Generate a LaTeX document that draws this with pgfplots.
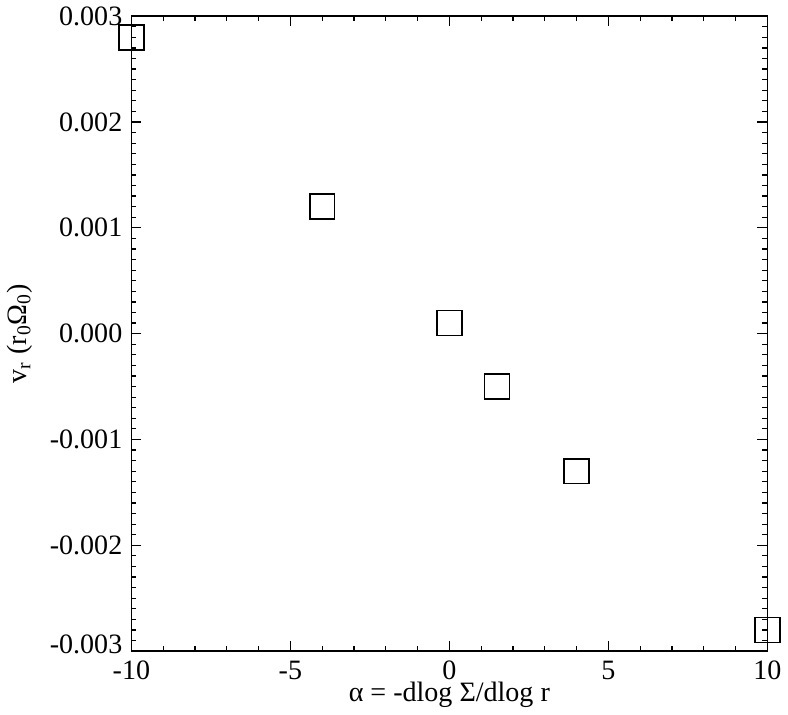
\documentclass[border=0pt]{standalone}
\usepackage{pgfplots}
\pgfplotsset{compat=1.18}
\usepackage{fontspec}
\setmainfont{Liberation Serif}

\begin{document}
\begin{tikzpicture}
\begin{axis}[
  scale only axis,
  width=317.5pt, height=317pt,
  xmin=-10, xmax=10, ymin=-0.003, ymax=0.003,
  xtick={-10,-5,0,5,10},
  xticklabels={-10,-5,0,5,10},
  ytick={-0.003,-0.002,-0.001,0,0.001,0.002,0.003},
  yticklabels={\raisebox{7pt}{-0.003},-0.002,-0.001,0.000,0.001,0.002,\raisebox{-4pt}{0.003}},
  minor x tick num=4,
  minor y tick num=9,
  tick align=inside,
  major tick length=5pt,
  minor tick length=2.5pt,
  every tick/.style={black, line width=0.6pt},
  axis line style={line width=0.75pt},
  scaled y ticks=false,
  tick label style={font=\fontsize{14}{16}\selectfont},
  yticklabel style={xshift=-1pt},
  xticklabel style={yshift=-1.5pt},
  xlabel={α = -dlog Σ/dlog r},
  ylabel={v\textsubscript{r} (r\textsubscript{0}Ω\textsubscript{0})},
  label style={font=\fontsize{14}{16}\selectfont},
  xlabel style={yshift=6pt},
  ylabel style={yshift=2pt},
  clip=true,
]
\addplot[only marks, mark=square, mark size=6.2pt, mark options={line width=0.8pt, black}]
  coordinates {
  (-10,0.0028)
  (-4,0.0012)
  (0,0.0001)
  (1.5,-0.0005)
  (4,-0.0013)
  (10,-0.0028)
};
\end{axis}
\end{tikzpicture}
\end{document}
